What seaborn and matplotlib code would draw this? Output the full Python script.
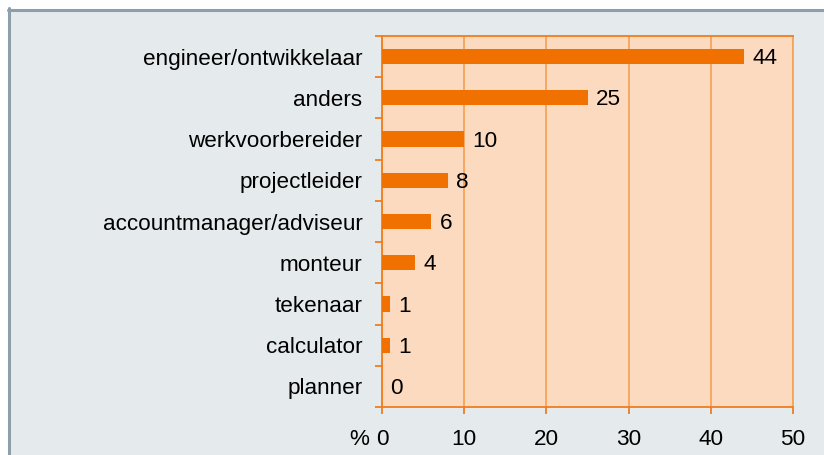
# Libraries
import matplotlib
matplotlib.use("Agg")
import matplotlib.pyplot as plt
import matplotlib.ticker as mticker
from matplotlib.lines import Line2D
import pandas as pd
import seaborn as sns

# Data (percent)
roles = ["engineer/ontwikkelaar", "anders", "werkvoorbereider", "projectleider",
         "accountmanager/adviseur", "monteur", "tekenaar", "calculator", "planner"]
percentages = [44, 25, 10, 8, 6, 4, 1, 1, 0]
x_ticks = [0, 10, 20, 30, 40, 50]

df = pd.DataFrame({"Role": roles, "Percentage": percentages})

# Colours
bar_color = "#F07000"
axes_bg = "#FBDAC0"
grid_color = "#F5A45C"
spine_color = "#F27C1E"
fig_bg = "#E5EAED"
border_color = "#8E9FAB"
font_size = 16.2

sns.set_style("white")
plt.rcParams["font.family"] = ["Liberation Sans", "DejaVu Sans"]
plt.rcParams["text.color"] = "black"
plt.rcParams["xtick.color"] = "black"
plt.rcParams["ytick.color"] = "black"

fig = plt.figure(figsize=(8.24, 4.55), dpi=100, facecolor="white")
ax = fig.add_axes([382 / 824, 1 - 407 / 455, 411 / 824, 371 / 455])

# Grey frame around the chart area
fig.patches.append(plt.Rectangle((9.5 / 824, 0), 1, 1 - 9.5 / 455,
                                 transform=fig.transFigure, facecolor=fig_bg,
                                 edgecolor="none", zorder=-10))
fig.add_artist(Line2D([9 / 824, 9 / 824], [0, 1 - 8 / 455], transform=fig.transFigure,
                      color=border_color, linewidth=2.2))
fig.add_artist(Line2D([8 / 824, 1], [1 - 9.5 / 455, 1 - 9.5 / 455], transform=fig.transFigure,
                      color=border_color, linewidth=2.2))

sns.barplot(data=df, x="Percentage", y="Role", color=bar_color, width=0.37,
            saturation=1, linewidth=0, edgecolor="none", ax=ax, zorder=3)

ax.set_facecolor(axes_bg)
ax.set_xlim(0, 50)
ax.set_ylim(len(roles) - 0.5, -0.5)
ax.set_xlabel("")
ax.set_ylabel("")

# Grid and spines
ax.set_xticks(x_ticks)
ax.xaxis.grid(True, color=grid_color, linewidth=1.3, zorder=1)
ax.set_axisbelow(True)
for side in ["left", "bottom", "top", "right"]:
    ax.spines[side].set_color(spine_color)
    ax.spines[side].set_linewidth(1.3)
ax.spines["right"].set_color(grid_color)

# Ticks: labels at category centres, marks at the boundaries
ax.tick_params(axis="y", which="major", left=True, length=0, pad=14,
               labelsize=font_size, labelcolor="black")
ax.yaxis.set_minor_locator(mticker.FixedLocator([i + 0.5 for i in range(-1, len(roles))]))
ax.tick_params(axis="y", which="minor", left=True, length=5, width=1.3, color=spine_color)
ax.tick_params(axis="x", which="major", bottom=True, length=5, width=1.3, color=spine_color,
               pad=11, labelsize=font_size, labelcolor="black")
ax.set_xticklabels([str(t) for t in x_ticks])

# "%" in front of the 0 tick label
ax.annotate("%", xy=(0, 0), xycoords=("data", "axes fraction"), xytext=(-9, -16),
            textcoords="offset points", ha="right", va="top", fontsize=font_size)

# Value labels
for i, v in enumerate(percentages):
    ax.annotate(f"{v}", xy=(v, i), xytext=(6, -1.5), textcoords="offset points",
                ha="left", va="center", fontsize=font_size)

plt.savefig("out.png", dpi=100, facecolor=fig.get_facecolor())
